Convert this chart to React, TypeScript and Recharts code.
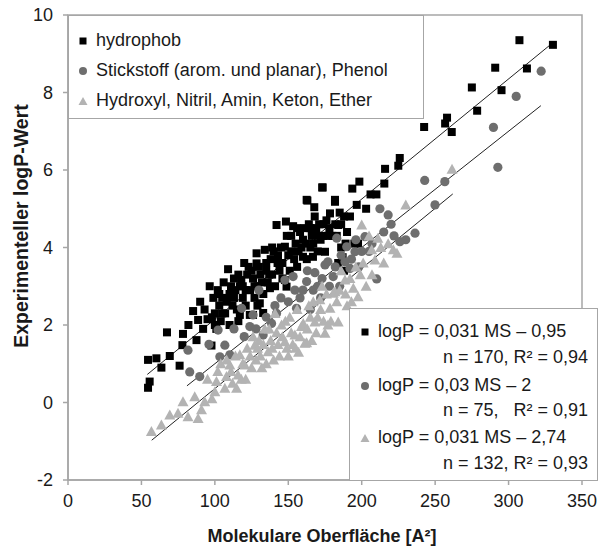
import React from 'react';
import { ScatterChart, Scatter, XAxis, YAxis, ReferenceLine, ReferenceArea } from 'recharts';

// [Oberfläche, logP]
const hydrophob: [number, number][] = [
  [54.5, 0.38], [55.6, 0.54], [54.5, 1.1], [60.2, 1.14], [63.6, 0.9], [69.3, 1.2], [76, 0.95], [67.4, 1.81],
  [78.3, 1.77], [77.9, 1.48], [82, 2.0], [85.2, 2.36], [88.6, 2.13], [87.5, 1.61], [90, 2.6], [92, 1.9],
  [93, 2.4], [95, 2.15], [96.5, 3.0], [97.7, 1.47], [99, 2.7], [100, 2.3], [101, 1.9], [102, 2.9],
  [103, 2.5], [104, 2.1], [105, 2.7], [106, 3.1], [107, 2.3], [109, 3.44], [110, 2.0], [110, 2.8],
  [112, 2.5], [113, 3.2], [114, 2.9], [115, 2.4], [117, 2.26], [117, 3.0], [118, 3.16], [119, 2.7],
  [120, 3.6], [121, 2.5], [122, 3.3], [123.8, 2.26], [124, 2.9], [126, 2.26], [126, 3.2], [127, 2.7],
  [128.4, 3.59], [128.4, 3.85], [129, 3.0], [130.6, 2.56], [131, 3.3], [132.9, 2.31], [133, 2.8], [134, 3.94],
  [135, 3.4], [136, 3.1], [137.5, 2.95], [138, 3.7], [139, 3.3], [140, 3.9], [141, 3.0], [142, 4.58],
  [142.7, 3.6], [144, 3.4], [145, 4.0], [146, 3.2], [147.7, 3.16], [147.7, 4.02], [148.4, 4.67], [148.8, 2.99],
  [150, 3.8], [151, 3.4], [152, 4.3], [153.3, 4.55], [154, 3.7], [155, 4.1], [156, 3.5], [157, 3.9],
  [158, 4.4], [160, 3.76], [160, 4.2], [161, 4.5], [162.6, 3.7], [163, 5.21], [164, 4.6], [165, 4.0],
  [166, 4.3], [166.8, 3.76], [167.7, 5.04], [168, 4.8], [169, 4.5], [170, 3.9], [170, 4.3], [172, 4.2],
  [173.1, 5.55], [174, 4.6], [175, 3.89], [176, 4.7], [177, 4.3], [178.4, 4.88], [180, 4.3], [181.8, 5.18],
  [182, 4.6], [184, 4.58], [184, 3.6], [185, 4.9], [186, 4.0], [187, 3.75], [188, 4.8], [188, 3.4],
  [190, 4.4], [193.6, 5.52], [195, 4.1], [196.6, 5.1], [197.5, 4.1], [198.4, 5.7], [203, 5.0], [206, 5.37],
  [210, 5.37], [215.4, 5.65], [215.9, 6.03], [224.9, 6.11], [225.9, 6.31], [242.5, 7.11], [256.8, 7.2], [258.1, 7.35],
  [261.3, 6.98], [275, 8.13], [278.6, 7.53], [290.9, 8.64], [295.2, 8.06], [307.4, 9.35], [312.5, 8.62], [330.2, 9.23],
  [162.5, 5.23], [181.8, 5.23], [173.4, 5.55],
  [98, 2.2], [100, 2.0], [103, 2.8], [105, 2.3], [108, 2.6], [111, 3.0], [113, 2.7], [116, 3.3],
  [119, 3.0], [121, 2.9], [123, 3.5], [125, 3.4], [127, 3.0], [130, 3.5], [132, 3.1], [135, 3.6],
  [137, 3.3], [139, 4.0], [143, 3.8], [146, 3.6], [149, 4.3], [152, 3.9], [156, 4.5], [159, 4.0],
  [162, 4.1], [165, 4.5], [167, 4.1], [171, 4.6], [174, 4.3], [178, 4.5], [183, 4.3], [186, 4.6],
  [189, 4.1], [192, 4.8], [116, 2.1], [129, 2.5],
];

const stickstoff: [number, number][] = [
  [82.9, 0.79], [89.7, 0.67], [81.7, 1.35], [96, 1.5], [103.4, 1.18], [102.2, 1.87], [106.8, 1.48], [110.2, 1.23],
  [113, 1.9], [120, 1.7], [118.2, 2.43], [126, 2.26], [123.8, 1.96], [130, 2.9], [132.9, 1.74], [138.6, 2.04],
  [140.9, 2.5], [145, 2.7], [147.7, 3.16], [153.3, 3.25], [154.5, 2.9], [155.6, 2.43], [158, 2.7], [162.5, 3.12],
  [165, 2.4], [168.1, 3.35], [170, 3.0], [172, 2.7], [175, 3.55], [177, 3.63], [180.6, 3.25], [183, 4.24],
  [185, 3.0], [188.6, 3.63], [189.8, 4.02], [192, 3.46], [195.4, 3.89], [198, 3.5], [202.2, 4.28], [205, 3.9],
  [210.2, 3.19], [212.4, 5.0], [215, 4.4], [218, 4.84], [220, 4.6], [226, 4.15], [230, 4.2], [236.3, 4.37],
  [249.9, 5.1], [242.9, 5.73], [256.6, 5.7], [289.7, 7.1], [292.7, 6.07], [305.2, 7.9], [322.2, 8.55],
  [150, 2.6], [160, 2.9], [163, 3.4], [167, 2.9], [173, 3.2], [178, 3.0], [182, 3.5], [186, 3.8],
  [193, 3.7], [196, 4.2], [200, 3.9], [207, 4.1], [222, 4.3], [128, 1.9], [135, 2.2], [142, 2.3],
];

const hydroxyl: [number, number][] = [
  [56.8, -0.75], [63.6, -0.58], [69.3, -0.32], [74.9, -0.28], [78.3, 0.02], [81.7, -0.37], [86.3, 0.15], [88.6, -0.41],
  [90.9, -0.19], [93.1, 0.02], [95, 0.6], [98, 0.1], [100, 0.28], [101.1, 0.54], [104, 1.0], [106.8, 0.37],
  [107.9, 0.67], [110.2, 0.97], [112, 0.5], [114.8, 0.37], [115.8, 0.71], [117, 1.23], [118, 0.6], [120.4, 0.97],
  [122, 1.4], [125, 0.9], [127.2, 1.48], [128, 1.1], [130, 1.6], [132, 0.9], [134, 1.9], [136.3, 1.31],
  [138, 1.6], [140, 1.1], [141, 2.3], [143, 1.5], [145.4, 2.0], [147.7, 1.57], [150, 1.2], [151, 2.2],
  [153, 1.5], [154.5, 1.74], [156, 2.4], [157, 1.3], [159, 1.96], [160.2, 2.04], [161.3, 1.53], [162.5, 1.54],
  [164, 2.5], [166, 1.6], [168.1, 2.08], [170, 2.2], [171.5, 2.65], [173, 3.0], [175, 1.79], [177, 2.0],
  [178.4, 2.43], [180.6, 2.82], [181.8, 2.86], [184, 2.08], [186, 3.4], [188.6, 3.16], [190, 2.5], [192, 3.2],
  [194.3, 2.95], [197.5, 2.73], [199, 3.3], [200, 4.58], [203, 3.0], [205, 4.3], [206.8, 3.94], [209, 3.68],
  [211, 4.24], [215, 3.6], [221.5, 3.94], [224, 3.85], [230, 5.1], [261.5, 6.02],
  [102, 0.8], [108, 1.1], [111, 0.8], [114, 1.2], [119, 1.0], [121, 0.6], [124, 1.2], [126, 1.7],
  [129, 1.4], [131, 1.2], [133, 1.5], [135, 1.0], [137, 1.9], [139, 1.4], [142, 1.8], [144, 1.2],
  [146, 1.7], [148, 2.1], [149, 1.4], [152, 1.8], [155, 1.4], [158, 1.7], [163, 1.9], [165, 2.2],
  [167, 2.6], [169, 1.8], [172, 2.4], [174, 2.1], [176, 2.8], [179, 2.1], [183, 2.6], [185, 2.9],
  [189, 2.8], [193, 2.6], [196, 3.5], [201, 3.6], [207, 3.3], [213, 4.0], [218, 4.1],
];

// regression lines: slope, intercept, x range
const fits = [
  { slope: 0.031, intercept: -0.95, from: 54, to: 330 },
  { slope: 0.03, intercept: -2, from: 81, to: 322 },
  { slope: 0.031, intercept: -2.74, from: 57, to: 262 },
];

const xTicks = [0, 50, 100, 150, 200, 250, 300, 350];
const yTicks = [-2, 0, 2, 4, 6, 8, 10];

const toPoints = (pts: [number, number][]) => pts.map(([x, y]) => ({ x, y }));

const SQUARE = '#000000';
const CIRCLE = '#6e6e6e';
const TRIANGLE = '#b3b3b3';
const AXIS = '#a6a6a6';

const Square = (p: any) => <rect x={p.cx - 4} y={p.cy - 4} width={8} height={8} fill={SQUARE} />;
const Dot = (p: any) => <circle cx={p.cx} cy={p.cy} r={4.6} fill={CIRCLE} />;
const Tri = (p: any) => (
  <polygon points={`${p.cx},${p.cy - 5.5} ${p.cx - 5.5},${p.cy + 4.5} ${p.cx + 5.5},${p.cy + 4.5}`} fill={TRIANGLE} />
);

const MarkSquare = () => <svg width={10} height={10}><rect x={1.5} y={1.5} width={7} height={7} fill={SQUARE} /></svg>;
const MarkDot = () => <svg width={10} height={10}><circle cx={5} cy={5} r={4} fill={CIRCLE} /></svg>;
const MarkTri = () => <svg width={10} height={10}><polygon points="5,1 0.5,9 9.5,9" fill={TRIANGLE} /></svg>;

const row = (top: number): React.CSSProperties => ({ position: 'absolute', top, height: 30, lineHeight: '30px', whiteSpace: 'pre' });

export default function App() {
  return (
    <div style={{ position: 'absolute', left: 0, top: 0, width: 598, height: 546, background: '#fff', fontFamily: '"Liberation Sans", Arial, sans-serif', color: '#1a1a1a' }}>
      <ScatterChart width={598} height={546} margin={{ top: 15, right: 16, bottom: 0, left: 0 }}>
        <XAxis
          type="number"
          dataKey="x"
          domain={[0, 350]}
          ticks={xTicks}
          height={66}
          tick={{ fill: '#1a1a1a', fontSize: 18 }}
          tickSize={5}
          tickMargin={9}
          axisLine={{ stroke: AXIS, strokeWidth: 1.5 }}
          tickLine={{ stroke: AXIS, strokeWidth: 1.5 }}
        />
        <YAxis
          type="number"
          dataKey="y"
          domain={[-2, 10]}
          ticks={yTicks}
          width={68}
          tick={{ fill: '#1a1a1a', fontSize: 18 }}
          tickSize={5}
          tickMargin={10}
          axisLine={{ stroke: AXIS, strokeWidth: 1.5 }}
          tickLine={{ stroke: AXIS, strokeWidth: 1.5 }}
        />
        <ReferenceArea x1={0} x2={350} y1={-2} y2={10} fill="none" stroke={AXIS} strokeWidth={1.5} />
        <Scatter name="hydrophob" data={toPoints(hydrophob)} shape={Square} isAnimationActive={false} />
        <Scatter name="Stickstoff" data={toPoints(stickstoff)} shape={Dot} isAnimationActive={false} />
        <Scatter name="Hydroxyl" data={toPoints(hydroxyl)} shape={Tri} isAnimationActive={false} />
        {fits.map((f, i) => (
          <ReferenceLine
            key={i}
            segment={[
              { x: f.from, y: f.slope * f.from + f.intercept },
              { x: f.to, y: f.slope * f.to + f.intercept },
            ]}
            stroke="#222"
            strokeWidth={1}
            ifOverflow="visible"
          />
        ))}
      </ScatterChart>

      {/* legend: groups */}
      <div style={{ position: 'absolute', left: 68, top: 15, width: 354, height: 102, border: `1.5px solid ${AXIS}`, background: '#fff', fontSize: 18 }}>
        <div style={{ ...row(9), left: 9 }}><MarkSquare /></div>
        <div style={{ ...row(9), left: 27 }}>hydrophob</div>
        <div style={{ ...row(39), left: 9 }}><MarkDot /></div>
        <div style={{ ...row(39), left: 27 }}>Stickstoff (arom. und planar), Phenol</div>
        <div style={{ ...row(69), left: 9 }}><MarkTri /></div>
        <div style={{ ...row(69), left: 27 }}>Hydroxyl, Nitril, Amin, Keton, Ether</div>
      </div>

      {/* legend: regressions */}
      <div style={{ position: 'absolute', left: 349, top: 308, width: 247, height: 171, border: `1.5px solid ${AXIS}`, background: '#fff', fontSize: 18 }}>
        <div style={{ ...row(7), left: 10 }}><MarkSquare /></div>
        <div style={{ ...row(7), left: 28 }}>logP = 0,031 MS – 0,95</div>
        <div style={{ ...row(33), right: 9 }}>n = 170, R² = 0,94</div>
        <div style={{ ...row(61), left: 10 }}><MarkDot /></div>
        <div style={{ ...row(61), left: 28 }}>logP = 0,03 MS – 2</div>
        <div style={{ ...row(86), right: 9 }}>n = 75,   R² = 0,91</div>
        <div style={{ ...row(113), left: 10 }}><MarkTri /></div>
        <div style={{ ...row(113), left: 28 }}>logP = 0,031 MS – 2,74</div>
        <div style={{ ...row(139), right: 9 }}>n = 132, R² = 0,93</div>
      </div>

      {/* axis titles */}
      <div style={{ position: 'absolute', left: 0, width: 598, top: 526, textAlign: 'center', fontWeight: 'bold', fontSize: 18, paddingLeft: 46, boxSizing: 'border-box' }}>
        Molekulare Oberfläche [A²]
      </div>
      <div style={{ position: 'absolute', left: 21, top: 226, width: 0, height: 0 }}>
        <div style={{ position: 'absolute', left: -150, top: -12, width: 300, textAlign: 'center', transform: 'rotate(-90deg)', fontWeight: 'bold', fontSize: 19.5, lineHeight: '24px', whiteSpace: 'nowrap' }}>
          Experimenteller logP-Wert
        </div>
      </div>
    </div>
  );
}
